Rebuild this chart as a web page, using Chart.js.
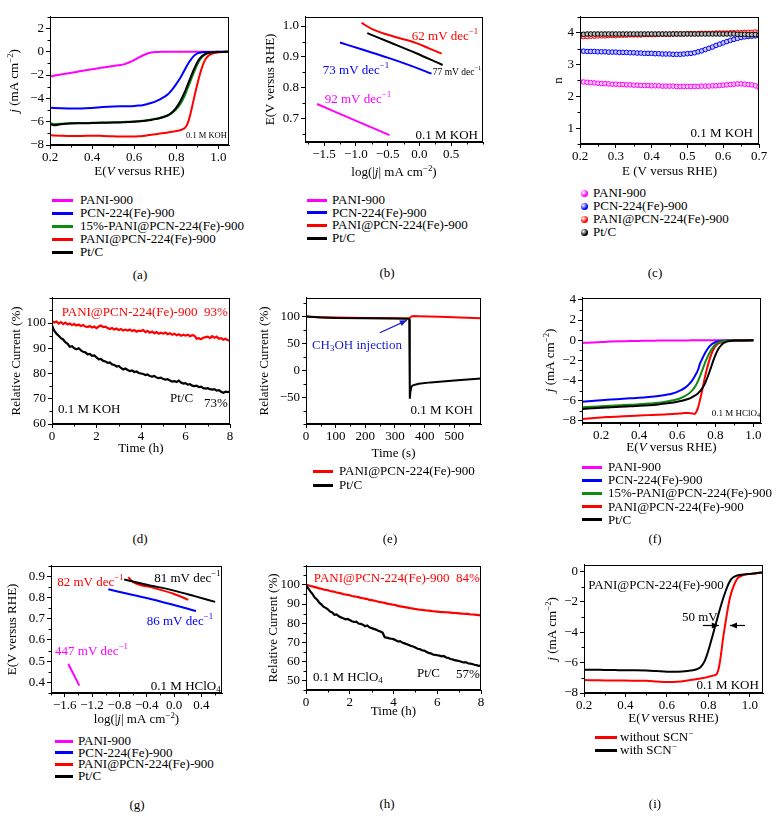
<!DOCTYPE html>
<html>
<head>
<meta charset="utf-8">
<script src="https://cdn.jsdelivr.net/npm/chart.js@4.4.0/dist/chart.umd.min.js"></script>
<style>
  body { margin: 0; background: #fff; width: 780px; height: 819px; position: relative; overflow: hidden;
         font-family: "Liberation Serif", "Times New Roman", serif; color: #000; }
  canvas { position: absolute; }
  .lg { position: absolute; font-size: 13px; line-height: 16px; height: 16px; white-space: nowrap; display: flex; align-items: center; }
  .lg sup { font-size: 9px; line-height: 0; }
  .ln { display: inline-block; height: 3px; }
  .dot { display: inline-block; width: 7px; height: 7px; border-radius: 50%; }
  .lab { position: absolute; font-size: 13px; transform: translate(-50%, -50%); }
</style>
</head>
<body>
<script>
// ---------- data ----------
// (a) LSV in 0.1 M KOH
var aE = [0.20,0.22,0.25,0.30,0.35,0.40,0.45,0.50,0.55,0.58,0.60,0.62,0.64,0.66,0.68,0.70,0.72,0.74,0.76,0.78,0.80,0.82,0.84,
          0.85,0.86,0.87,0.88,0.89,0.90,0.91,0.92,0.93,0.94,0.95,0.96,0.98,1.00,1.02,1.05];
var aPani = [-2.12,-2.05,-1.96,-1.80,-1.66,-1.50,-1.35,-1.22,-1.08,-0.88,-0.70,-0.50,-0.32,-0.17,-0.07,-0.02,-0.01,0,0,0,0,0,0,
             0,0,0,0,0,0,0,0,0,0,0,0,0,0,0,0];
var aPcn = [-4.80,-4.82,-4.84,-4.86,-4.86,-4.82,-4.75,-4.70,-4.68,-4.67,-4.65,-4.62,-4.58,-4.50,-4.40,-4.28,-4.10,-3.90,-3.65,-3.25,-2.75,-2.20,-1.55,
            -1.20,-0.90,-0.65,-0.42,-0.25,-0.14,-0.08,-0.05,-0.03,-0.02,-0.02,-0.01,-0.01,0,0,0];
var a15 = [-6.10,-6.20,-6.18,-6.12,-6.12,-6.10,-6.08,-6.05,-6.02,-6.00,-5.98,-5.95,-5.92,-5.88,-5.82,-5.75,-5.68,-5.58,-5.45,-5.25,-4.92,-4.45,-3.75,
           -3.30,-2.85,-2.38,-1.92,-1.48,-1.08,-0.75,-0.50,-0.32,-0.20,-0.13,-0.08,-0.04,-0.02,-0.01,0];
var aPP = [-7.15,-7.18,-7.20,-7.22,-7.22,-7.20,-7.22,-7.25,-7.28,-7.28,-7.27,-7.25,-7.22,-7.18,-7.12,-7.08,-7.02,-6.98,-6.92,-6.86,-6.80,-6.72,-6.55,
           -6.30,-5.80,-5.10,-4.30,-3.50,-2.75,-2.05,-1.45,-0.95,-0.60,-0.38,-0.24,-0.10,-0.05,-0.02,-0.01];
var aPt = [-6.20,-6.30,-6.22,-6.15,-6.14,-6.12,-6.10,-6.08,-6.05,-6.02,-6.00,-5.98,-5.95,-5.90,-5.85,-5.78,-5.70,-5.60,-5.45,-5.20,-4.80,-4.20,-3.45,
           -3.00,-2.55,-2.10,-1.65,-1.25,-0.88,-0.60,-0.40,-0.26,-0.17,-0.11,-0.07,-0.04,-0.02,-0.01,0];
var aXTicks = [0.2,0.4,0.6,0.8,1.0];
var aYTicks = [-8,-6,-4,-2,0,2];

// (b) Tafel, KOH
var bPaniX = [-1.61,-1.05,-0.47],                    bPaniY = [0.748,0.698,0.647];
var bPcnX  = [-1.25,-0.90,-0.50,-0.15,0.19],         bPcnY  = [0.947,0.924,0.898,0.873,0.846];
var bPPX   = [-0.91,-0.75,-0.55,-0.35,-0.05,0.15,0.35], bPPY = [1.010,0.991,0.975,0.963,0.945,0.928,0.911];
var bPtX   = [-0.82,-0.45,-0.05,0.15,0.365],         bPtY   = [0.977,0.946,0.912,0.894,0.874];
var bXTicks = [-1.5,-1.0,-0.5,0,0.5];
var bYTicks = [0.7,0.8,0.9,1.0];

// (c) electron transfer number
var cE = [0.20,0.21,0.22,0.23,0.24,0.25,0.26,0.27,0.28,0.29,0.30,0.31,0.32,0.33,0.34,0.35,0.36,0.37,0.38,0.39,
          0.40,0.41,0.42,0.43,0.44,0.45,0.46,0.47,0.48,0.49,0.50,0.51,0.52,0.53,0.54,0.55,0.56,0.57,0.58,0.59,
          0.60,0.61,0.62,0.63,0.64,0.65,0.66,0.67,0.68,0.69,0.70];
var cPani = [2.46,2.45,2.44,2.43,2.42,2.41,2.40,2.40,2.39,2.38,2.38,2.37,2.37,2.36,2.36,2.35,2.35,2.34,2.34,2.34,
             2.33,2.33,2.33,2.32,2.32,2.32,2.32,2.31,2.31,2.31,2.31,2.31,2.31,2.31,2.32,2.32,2.32,2.33,2.33,2.34,
             2.35,2.36,2.37,2.38,2.39,2.39,2.38,2.37,2.36,2.33,2.28];
var cPcn = [3.42,3.42,3.41,3.41,3.41,3.40,3.40,3.40,3.39,3.39,3.39,3.38,3.38,3.38,3.37,3.37,3.36,3.36,3.35,3.35,
            3.35,3.34,3.34,3.33,3.33,3.33,3.32,3.32,3.32,3.33,3.34,3.35,3.37,3.40,3.43,3.47,3.51,3.55,3.60,3.64,
            3.68,3.72,3.76,3.79,3.82,3.85,3.87,3.88,3.89,3.90,3.91];
var cPP = [3.87,3.88,3.88,3.89,3.89,3.90,3.90,3.90,3.91,3.91,3.91,3.92,3.92,3.92,3.93,3.93,3.93,3.93,3.94,3.94,
           3.94,3.94,3.95,3.95,3.95,3.95,3.96,3.96,3.96,3.96,3.97,3.97,3.97,3.97,3.98,3.98,3.98,3.98,3.99,3.99,
           3.99,3.99,4.00,4.00,4.00,4.00,4.01,4.01,4.01,4.02,4.02];
var cPt = [3.95,3.95,3.96,3.96,3.96,3.96,3.96,3.96,3.96,3.96,3.96,3.96,3.96,3.96,3.96,3.96,3.96,3.96,3.96,3.96,
           3.96,3.96,3.96,3.96,3.96,3.96,3.96,3.96,3.96,3.96,3.96,3.96,3.96,3.96,3.96,3.96,3.96,3.96,3.96,3.96,
           3.96,3.96,3.96,3.96,3.95,3.95,3.95,3.94,3.94,3.94,3.93];
var cXTicks = [0.2,0.3,0.4,0.5,0.6,0.7];
var cYTicks = [1,2,3,4];

// (d) stability, KOH
var dT = [0,0.1,0.2,0.3,0.4,0.5,0.6,0.7,0.8,0.9,1.0,1.1,1.2,1.3,1.4,1.5,1.6,1.7,1.8,1.9,
          2.0,2.1,2.2,2.3,2.4,2.5,2.6,2.7,2.8,2.9,3.0,3.1,3.2,3.3,3.4,3.5,3.6,3.7,3.8,3.9,
          4.0,4.1,4.2,4.3,4.4,4.5,4.6,4.7,4.8,4.9,5.0,5.1,5.2,5.3,5.4,5.5,5.6,5.7,5.8,5.9,
          6.0,6.1,6.2,6.3,6.4,6.5,6.6,6.7,6.8,6.9,7.0,7.1,7.2,7.3,7.4,7.5,7.6,7.7,7.8,7.9,8.0];
var dPP = [100.8,100.2,100.6,99.8,100.4,99.6,100.2,99.4,99.8,99.2,99.6,99.0,99.4,98.8,99.2,98.6,98.4,98.8,98.2,98.6,
           98.0,98.6,99.0,98.4,98.6,98.0,97.6,98.0,97.4,97.8,97.2,97.6,97.0,97.4,97.0,97.4,96.8,97.2,96.6,97.0,
           96.8,97.2,96.4,96.8,96.2,96.6,96.0,96.4,95.8,96.2,95.8,96.2,95.6,96.0,95.4,95.8,95.2,95.6,95.0,95.4,
           95.0,95.4,94.8,95.2,95.0,93.8,94.0,93.6,94.2,94.4,94.6,94.0,94.8,94.2,94.6,93.8,94.0,93.4,93.8,93.2,93.0];
var dPt = [99.0,97.0,95.8,95.0,94.0,93.5,92.4,91.8,90.6,90.8,90.0,89.6,90.0,89.2,88.6,88.4,87.6,87.8,87.0,87.2,
           86.4,85.6,85.8,85.0,84.8,84.2,84.4,83.6,83.4,82.8,83.0,82.2,81.6,82.0,81.4,81.0,81.2,80.6,80.8,80.2,
           80.0,79.8,79.4,79.6,79.0,78.8,79.0,78.4,78.2,78.4,77.8,77.6,77.8,77.2,76.8,77.0,76.6,77.2,76.4,76.0,
           76.2,75.6,75.8,75.2,75.0,75.2,74.6,74.8,74.2,74.0,74.2,73.8,73.6,73.8,73.2,73.4,72.8,72.4,72.8,72.6,73.0];
var dXTicks = [0,2,4,6,8];
var dYTicks = [60,70,80,90,100];

// (e) methanol tolerance
var ePPX = [0,50,100,200,300,345,350,355,362,380,450,520,590];
var ePPY = [100,99,98.2,97.5,97,96.6,97.5,100,101,100.8,99.6,98.4,97];
var ePtX = [0,50,100,200,300,345,348,350,352,355,360,380,420,500,590];
var ePtY = [100,98.5,97.5,97,96.5,96,95,-53,-40,-31,-28,-25,-22.5,-19,-15.5];
var eXTicks = [0,100,200,300,400,500];
var eYTicks = [-50,0,50,100];

// (f) LSV in 0.1 M HClO4
var fE = [0.10,0.15,0.20,0.25,0.30,0.35,0.40,0.45,0.50,0.55,0.58,0.60,0.62,0.64,0.66,0.68,
          0.69,0.70,0.71,0.72,0.73,0.74,0.75,0.76,0.77,0.78,0.79,0.80,0.81,0.82,0.84,0.86,0.88,0.90,0.95,1.00];
var fPani = [-0.28,-0.22,-0.18,-0.14,-0.11,-0.09,-0.07,-0.05,-0.04,-0.03,-0.03,-0.02,-0.02,-0.02,-0.02,-0.01,
             -0.01,-0.01,-0.01,-0.01,-0.01,-0.01,-0.01,-0.01,-0.01,-0.01,-0.01,-0.01,-0.01,-0.01,0,0,0,0,0,0];
var fPcn = [-6.10,-6.02,-5.95,-5.88,-5.82,-5.76,-5.70,-5.62,-5.52,-5.38,-5.25,-5.12,-4.95,-4.72,-4.40,-3.95,
            -3.65,-3.30,-2.90,-2.30,-1.90,-1.50,-1.15,-0.85,-0.60,-0.42,-0.30,-0.20,-0.13,-0.09,-0.05,-0.03,-0.02,-0.01,0,0];
var f15 = [-6.65,-6.60,-6.55,-6.50,-6.45,-6.40,-6.35,-6.28,-6.20,-6.05,-5.95,-5.85,-5.72,-5.55,-5.30,-4.95,
           -4.70,-4.40,-4.00,-3.55,-3.05,-2.55,-2.05,-1.62,-1.25,-0.92,-0.65,-0.45,-0.30,-0.20,-0.10,-0.06,-0.04,-0.03,-0.02,-0.01];
var fPP = [-7.80,-7.72,-7.65,-7.60,-7.55,-7.50,-7.46,-7.42,-7.38,-7.33,-7.30,-7.28,-7.25,-7.22,-7.20,-7.25,
           -7.30,-7.10,-6.65,-5.90,-5.05,-4.15,-3.30,-2.55,-1.90,-1.35,-0.92,-0.62,-0.42,-0.30,-0.15,-0.07,-0.04,-0.03,-0.02,-0.01];
var fPt = [-6.82,-6.75,-6.70,-6.64,-6.60,-6.55,-6.50,-6.44,-6.36,-6.25,-6.17,-6.10,-6.02,-5.92,-5.80,-5.62,
           -5.52,-5.40,-5.25,-5.05,-4.80,-4.50,-4.10,-3.62,-3.10,-2.55,-2.00,-1.50,-1.08,-0.75,-0.32,-0.14,-0.07,-0.04,-0.02,-0.01];
var fXTicks = [0.2,0.4,0.6,0.8,1.0];
var fYTicks = [-8,-6,-4,-2,0,2,4];

// (g) Tafel, HClO4
var gPaniX = [-1.547,-1.386],                    gPaniY = [0.487,0.385];
var gPcnX  = [-0.962,-0.60,-0.20,0.32],          gPcnY  = [0.839,0.812,0.782,0.737];
var gPPX   = [-0.67,-0.63,-0.58,-0.30,0.0,0.207], gPPY  = [0.897,0.882,0.870,0.846,0.817,0.790];
var gPtX   = [-0.73,-0.40,0.0,0.30,0.60],        gPtY   = [0.885,0.861,0.833,0.807,0.780];
var gXTicks = [-1.6,-1.2,-0.8,-0.4,0,0.4];
var gYTicks = [0.4,0.5,0.6,0.7,0.8,0.9];

// (h) stability, HClO4
var hT = dT;
var hPP = [100.0,99.8,99.4,99.2,98.8,98.6,98.2,98.0,97.6,97.4,97.2,96.8,96.6,96.4,96.0,95.8,95.6,95.2,95.0,94.8,
           94.6,94.2,94.0,93.8,93.6,93.2,93.0,92.8,92.6,92.2,92.0,91.8,91.6,91.2,91.0,90.8,90.6,90.2,90.0,89.8,
           89.6,89.4,89.0,88.8,88.6,88.4,88.2,88.0,87.8,87.6,87.4,87.2,87.0,86.9,86.8,86.6,86.5,86.4,86.2,86.1,
           86.0,85.9,85.8,85.8,85.7,85.6,85.5,85.4,85.3,85.2,85.1,85.0,84.9,84.8,84.8,84.6,84.5,84.4,84.3,84.2,84.0];
var hPt = [100.0,98.2,96.6,95.2,93.4,92.4,90.8,89.8,88.6,88.0,87.2,86.0,85.6,84.4,84.6,83.6,83.0,82.6,82.0,82.2,
           81.6,81.0,80.6,80.8,79.8,79.6,79.2,78.4,78.8,77.8,77.4,77.0,76.6,76.0,75.6,75.0,72.6,72.4,72.0,71.8,
           71.6,71.0,70.4,70.6,69.8,69.4,69.0,68.6,68.0,67.8,67.2,66.6,66.4,65.8,65.6,65.0,64.4,64.2,63.6,63.4,
           63.2,63.0,62.6,62.8,62.0,61.8,61.2,61.0,60.6,60.4,60.2,59.8,59.4,59.6,59.0,58.8,58.6,58.2,58.0,57.6,57.8];
var hXTicks = [0,2,4,6,8];
var hYTicks = [50,60,70,80,90,100];

// (i) SCN- poisoning
var iE = [0.20,0.25,0.30,0.35,0.40,0.45,0.50,0.55,0.60,0.65,0.70,0.74,0.76,0.78,
          0.79,0.80,0.81,0.82,0.83,0.84,0.85,0.86,0.87,0.88,0.89,0.90,0.91,0.92,0.93,0.94,0.96,0.98,1.00,1.03,1.06];
var iWithout = [-7.15,-7.16,-7.17,-7.18,-7.18,-7.19,-7.20,-7.24,-7.28,-7.26,-7.18,-7.10,-7.05,-7.00,
                -6.97,-6.93,-6.90,-6.86,-6.82,-6.75,-6.35,-5.50,-4.45,-3.55,-2.70,-1.95,-1.40,-1.00,-0.68,-0.45,-0.27,-0.19,-0.15,-0.10,-0.05];
var iWith = [-6.46,-6.47,-6.48,-6.49,-6.50,-6.50,-6.51,-6.55,-6.60,-6.60,-6.55,-6.45,-6.32,-5.95,
             -5.60,-5.18,-4.70,-4.22,-3.72,-3.22,-2.72,-2.25,-1.80,-1.40,-1.02,-0.72,-0.50,-0.37,-0.30,-0.25,-0.20,-0.17,-0.15,-0.10,-0.05];
var iXTicks = [0.2,0.4,0.6,0.8,1.0];
var iYTicks = [-8,-6,-4,-2,0];

var names5 = ['PANI-900', 'PCN-224(Fe)-900', '15%-PANI@PCN-224(Fe)-900', 'PANI@PCN-224(Fe)-900', 'Pt/C'];
var names4 = ['PANI-900', 'PCN-224(Fe)-900', 'PANI@PCN-224(Fe)-900', 'Pt/C'];
var names2 = ['PANI@PCN-224(Fe)-900', 'Pt/C'];
var namesSCN = ['without SCN<sup>\u2212</sup>', 'with SCN<sup>\u2212</sup>'];

var MAG = '#ff00ff', BLU = '#0000ff', GRN = '#108a10', RED = '#ff0000', BLK = '#000000';

// ---------- helpers ----------
var FONT = '"Liberation Serif", "Times New Roman", serif';
var MINUS = '\u2212';
function fmt(d) {
  return function (v) { return (v < -1e-9 ? MINUS : '') + Math.abs(v).toFixed(d); };
}

// tiny markup: *italic*, ^{sup}, _{sub}
function parseRich(s) {
  var segs = [], italic = false, buf = '', i = 0;
  function push(t, pos) { if (t) segs.push({ t: t, italic: italic, pos: pos }); }
  while (i < s.length) {
    var c = s[i];
    if (c === '*') { push(buf, 0); buf = ''; italic = !italic; i++; }
    else if ((c === '^' || c === '_') && s[i + 1] === '{') {
      push(buf, 0); buf = '';
      var j = s.indexOf('}', i);
      push(s.slice(i + 2, j), c === '^' ? 1 : -1);
      i = j + 1;
    } else { buf += c; i++; }
  }
  push(buf, 0);
  return segs;
}

function drawRich(ctx, s, x, y, size, color, align, rotate) {
  var segs = parseRich(s);
  function fontOf(g) { return (g.italic ? 'italic ' : '') + (g.pos ? size * 0.68 : size) + 'px ' + FONT; }
  var w = 0;
  segs.forEach(function (g) { ctx.font = fontOf(g); g.w = ctx.measureText(g.t).width; w += g.w; });
  ctx.save();
  ctx.translate(x, y);
  if (rotate) ctx.rotate(-Math.PI / 2);
  var cx = align === 'left' ? 0 : (align === 'right' ? -w : -w / 2);
  ctx.fillStyle = color;
  ctx.textBaseline = 'middle';
  segs.forEach(function (g) {
    ctx.font = fontOf(g);
    var dy = g.pos === 1 ? -size * 0.36 : (g.pos === -1 ? size * 0.25 : 0);
    ctx.fillText(g.t, cx, dy);
    cx += g.w;
  });
  ctx.restore();
}

// frame, minor ticks, axis titles, notes and arrows
var decor = {
  id: 'decor',
  afterDraw: function (chart, args, o) {
    var ctx = chart.ctx, ca = chart.chartArea, x = chart.scales.x, y = chart.scales.y;
    ctx.save();
    ctx.strokeStyle = '#000';
    ctx.lineWidth = 1;
    ctx.strokeRect(Math.round(ca.left) + 0.5, Math.round(ca.top) + 0.5,
                   Math.round(ca.right - ca.left) - 1, Math.round(ca.bottom - ca.top) - 1);

    function minors(s, step, horiz) {
      if (!step) return;
      var majors = s.ticks.map(function (t) { return t.value; });
      for (var k = Math.ceil(s.min / step - 1e-6); k * step <= s.max + 1e-9; k++) {
        var v = k * step;
        if (majors.some(function (m) { return Math.abs(m - v) < 1e-6; })) continue;
        var p = Math.round(s.getPixelForValue(v)) + 0.5;
        ctx.beginPath();
        if (horiz) { ctx.moveTo(p, ca.bottom); ctx.lineTo(p, ca.bottom + 2.5); }
        else { ctx.moveTo(ca.left, p); ctx.lineTo(ca.left - 2.5, p); }
        ctx.stroke();
      }
    }
    minors(x, o.minorX, true);
    minors(y, o.minorY, false);

    drawRich(ctx, o.xTitle, (ca.left + ca.right) / 2, ca.bottom + o.xDy, 13, '#000', 'center', false);
    drawRich(ctx, o.yTitle, ca.left + o.yDx, (ca.top + ca.bottom) / 2, 13, '#000', 'center', true);

    (o.notes || []).forEach(function (n) {
      drawRich(ctx, n.t, x.getPixelForValue(n.x), y.getPixelForValue(n.y), n.size || 13, n.c || '#000', n.a || 'left', false);
    });

    (o.arrows || []).forEach(function (a) {
      var x1 = x.getPixelForValue(a.x1), y1 = y.getPixelForValue(a.y1);
      var x2 = x.getPixelForValue(a.x2), y2 = y.getPixelForValue(a.y2);
      var ang = Math.atan2(y2 - y1, x2 - x1);
      ctx.strokeStyle = a.c; ctx.fillStyle = a.c; ctx.lineWidth = 1.2;
      ctx.beginPath(); ctx.moveTo(x1, y1); ctx.lineTo(x2, y2); ctx.stroke();
      ctx.beginPath();
      ctx.moveTo(x2, y2);
      ctx.lineTo(x2 - 7 * Math.cos(ang) + 3 * Math.sin(ang), y2 - 7 * Math.sin(ang) - 3 * Math.cos(ang));
      ctx.lineTo(x2 - 7 * Math.cos(ang) - 3 * Math.sin(ang), y2 - 7 * Math.sin(ang) + 3 * Math.cos(ang));
      ctx.closePath();
      ctx.fill();
    });
    ctx.restore();
  }
};

function axis(min, max, ticks, f, horiz) {
  return {
    type: 'linear',
    position: horiz ? 'bottom' : 'left',
    min: min,
    max: max,
    afterBuildTicks: function (s) { s.ticks = ticks.map(function (v) { return { value: v }; }); },
    afterFit: function (s) { if (horiz) s.height = 40; else s.width = 50; },
    grid: { drawOnChartArea: false, drawTicks: true, tickLength: 4, color: '#000' },
    border: { display: true, color: '#000', width: 1 },
    ticks: { color: '#000', font: { size: 13, family: FONT }, padding: horiz ? 1 : 2,
             maxRotation: 0, autoSkip: false, callback: function (v) { return f(v); } }
  };
}

function ser(xs, ys, color, width, order, extra) {
  var d = {
    data: xs.map(function (x, i) { return { x: x, y: ys[i] }; }),
    borderColor: color, backgroundColor: color, borderWidth: width,
    pointRadius: 0, cubicInterpolationMode: 'monotone', order: order
  };
  for (var k in extra || {}) d[k] = extra[k];
  return d;
}

function beads(xs, ys, color, tint, order) {
  return ser(xs, ys, color, 0, order, {
    showLine: false, pointRadius: 2.3, pointStyle: 'circle',
    pointBackgroundColor: tint, pointBorderColor: color, pointBorderWidth: 1
  });
}

// right padding 20 so notes near the frame are not cut
function panel(box, xAx, yAx, datasets, deco) {
  var cv = document.createElement('canvas');
  var W = box.r - box.l + 70, H = box.b - box.t + 46;
  cv.width = W; cv.height = H;
  cv.style.width = W + 'px'; cv.style.height = H + 'px';
  cv.style.left = (box.l - 50) + 'px'; cv.style.top = (box.t - 6) + 'px';
  document.body.appendChild(cv);
  new Chart(cv, {
    type: 'line',
    data: { datasets: datasets },
    options: {
      responsive: false, animation: false, devicePixelRatio: 1, events: [],
      layout: { padding: { top: 6, right: 20, left: 0, bottom: 0 } },
      plugins: { legend: { display: false }, tooltip: { enabled: false }, decor: deco },
      scales: { x: xAx, y: yAx }
    },
    plugins: [decor]
  });
}

function legend(x, yc, dy, w, gap, names, colors, dots) {
  names.forEach(function (n, k) {
    var d = document.createElement('div');
    d.className = 'lg';
    d.style.left = x + 'px';
    d.style.top = (yc + k * dy - 8) + 'px';
    var mk = dots
      ? '<span class="dot" style="background:radial-gradient(circle at 35% 35%, #fff 0, ' + colors[k] + ' 60%)"></span>'
      : '<span class="ln" style="width:' + w + 'px;background:' + colors[k] + '"></span>';
    d.innerHTML = mk + '<span style="margin-left:' + gap + 'px">' + n + '</span>';
    document.body.appendChild(d);
  });
}

function label(t, x, y) {
  var d = document.createElement('div');
  d.className = 'lab';
  d.style.left = x + 'px'; d.style.top = y + 'px';
  d.textContent = t;
  document.body.appendChild(d);
}

Chart.defaults.font.family = FONT;
Chart.defaults.color = '#000';

// ---------- panels ----------
panel({ l: 50, t: 13, r: 229, b: 145 },
  axis(0.2, 1.05, aXTicks, fmt(1), true), axis(-8, 3, aYTicks, fmt(0), false),
  [ser(aE, aPani, MAG, 2, 4), ser(aE, aPcn, BLU, 2, 3), ser(aE, a15, GRN, 2, 1),
   ser(aE, aPP, RED, 2, 2), ser(aE, aPt, BLK, 2, 0)],
  { minorX: 0.1, minorY: 1, xTitle: 'E(*V* versus RHE)', xDy: 27, yTitle: '*j* (mA cm^{\u22122})', yDx: -35,
    notes: [{ t: '0.1 M KOH', x: 1.04, y: -7.2, size: 8.5, a: 'right' }] });

panel({ l: 305, t: 13, r: 483, b: 142 },
  axis(-1.8, 1.0, bXTicks, fmt(1), true), axis(0.625, 1.03, bYTicks, fmt(1), false),
  [ser(bPaniX, bPaniY, MAG, 2, 3), ser(bPcnX, bPcnY, BLU, 2, 2), ser(bPPX, bPPY, RED, 2, 1), ser(bPtX, bPtY, BLK, 2, 0)],
  { minorX: 0.25, minorY: 0.05, xTitle: 'log(|*j*| mA cm^{\u22122})', xDy: 31, yTitle: 'E(V versus RHE)', yDx: -34,
    notes: [
      { t: '62 mV dec^{\u22121}', x: -0.12, y: 0.967, c: RED },
      { t: '73 mV dec^{\u22121}', x: -1.52, y: 0.857, c: BLU },
      { t: '77 mV dec^{\u22121}', x: 0.21, y: 0.851, size: 9.5 },
      { t: '92 mV dec^{\u22121}', x: -1.49, y: 0.763, c: MAG },
      { t: '0.1 M KOH', x: 0.92, y: 0.647, a: 'right' }] });

panel({ l: 580, t: 13, r: 759, b: 144 },
  axis(0.2, 0.7, cXTicks, fmt(1), true), axis(0.5, 4.5, cYTicks, fmt(0), false),
  [beads(cE, cPani, MAG, '#ffc8ff', 3), beads(cE, cPcn, BLU, '#c8c8ff', 2),
   beads(cE, cPP, RED, '#ffc8c8', 1), beads(cE, cPt, BLK, '#bbbbbb', 0)],
  { minorX: 0.05, minorY: 0.5, xTitle: 'E (V versus RHE)', xDy: 28, yTitle: 'n', yDx: -21,
    notes: [{ t: '0.1 M KOH', x: 0.683, y: 0.84, a: 'right' }] });

panel({ l: 52, t: 294, r: 230, b: 424 },
  axis(0, 8, dXTicks, fmt(0), true), axis(60, 110, dYTicks, fmt(0), false),
  [ser(dT, dPP, RED, 2.2, 1, { cubicInterpolationMode: 'default', tension: 0 }),
   ser(dT, dPt, BLK, 2.2, 0, { cubicInterpolationMode: 'default', tension: 0 })],
  { minorX: 1, minorY: 5, xTitle: 'Time (h)', xDy: 25, yTitle: 'Relative Current (%)', yDx: -35,
    notes: [
      { t: 'PANI@PCN-224(Fe)-900  93%', x: 7.9, y: 104.2, c: RED, a: 'right' },
      { t: 'Pt/C', x: 5.3, y: 70.0 },
      { t: '73%', x: 7.9, y: 68.0, a: 'right' },
      { t: '0.1 M KOH', x: 0.27, y: 65.8 }] });

panel({ l: 306, t: 294, r: 481, b: 424 },
  axis(0, 590, eXTicks, fmt(0), true), axis(-100, 135, eYTicks, fmt(0), false),
  [ser(ePPX, ePPY, RED, 2, 1, { cubicInterpolationMode: 'default', tension: 0 }),
   ser(ePtX, ePtY, BLK, 2, 0, { cubicInterpolationMode: 'default', tension: 0 })],
  { minorX: 50, minorY: 25, xTitle: 'Time (s)', xDy: 30, yTitle: 'Relative Current (%)', yDx: -41,
    notes: [
      { t: 'CH_{3}OH injection', x: 20, y: 46, c: '#1a1ad0' },
      { t: '0.1 M KOH', x: 563, y: -75, a: 'right' }],
    arrows: [{ x1: 249, y1: 70, x2: 340, y2: 93, c: '#1a1ad0' }] });

panel({ l: 582, t: 294, r: 761, b: 423 },
  axis(0.1, 1.04, fXTicks, fmt(1), true), axis(-8.2, 4.2, fYTicks, fmt(0), false),
  [ser(fE, fPani, MAG, 2, 4), ser(fE, fPcn, BLU, 2, 3), ser(fE, f15, GRN, 2, 1),
   ser(fE, fPP, RED, 2, 2), ser(fE, fPt, BLK, 2, 0)],
  { minorX: 0.1, minorY: 1, xTitle: 'E(*V* versus RHE)', xDy: 25, yTitle: '*j* (mA cm^{\u22122})', yDx: -31,
    notes: [{ t: '0.1 M HClO_{4}', x: 1.035, y: -7.25, size: 9, a: 'right' }] });

panel({ l: 51, t: 562, r: 222, b: 693 },
  axis(-1.8, 0.7, gXTicks, fmt(1), true), axis(0.35, 0.95, gYTicks, fmt(1), false),
  [ser(gPaniX, gPaniY, MAG, 2, 3), ser(gPcnX, gPcnY, BLU, 2, 2), ser(gPPX, gPPY, RED, 2, 1), ser(gPtX, gPtY, BLK, 2, 0)],
  { minorX: 0.2, minorY: 0.05, xTitle: 'log(|*j*| mA cm^{\u22122})', xDy: 27, yTitle: 'E(V versus RHE)', yDx: -38,
    notes: [
      { t: '82 mV dec^{\u22121}', x: -1.71, y: 0.872, c: RED },
      { t: '81 mV dec^{\u22121}', x: 0.68, y: 0.89, a: 'right' },
      { t: '86 mV dec^{\u22121}', x: -0.40, y: 0.689, c: BLU },
      { t: '447 mV dec^{\u22121}', x: -1.74, y: 0.546, c: MAG },
      { t: '0.1 M HClO_{4}', x: 0.68, y: 0.381, a: 'right' }] });

panel({ l: 306, t: 562, r: 481, b: 690 },
  axis(0, 8, hXTicks, fmt(0), true), axis(45, 110, hYTicks, fmt(0), false),
  [ser(hT, hPP, RED, 2.2, 1, { cubicInterpolationMode: 'default', tension: 0 }),
   ser(hT, hPt, BLK, 2.2, 0, { cubicInterpolationMode: 'default', tension: 0 })],
  { minorX: 1, minorY: 5, xTitle: 'Time (h)', xDy: 22, yTitle: 'Relative Current (%)', yDx: -32,
    notes: [
      { t: 'PANI@PCN-224(Fe)-900  84%', x: 7.95, y: 103.4, c: RED, a: 'right' },
      { t: '0.1 M HClO_{4}', x: 0.32, y: 51.6 },
      { t: 'Pt/C', x: 5.07, y: 53.7 },
      { t: '57%', x: 7.95, y: 53.2, a: 'right' }] });

panel({ l: 584, t: 561, r: 763, b: 693 },
  axis(0.2, 1.063, iXTicks, fmt(1), true), axis(-8, 0.45, iYTicks, fmt(0), false),
  [ser(iE, iWithout, RED, 2, 1), ser(iE, iWith, BLK, 2, 0)],
  { minorX: 0.1, minorY: 1, xTitle: 'E(*V* versus RHE)', xDy: 26, yTitle: '*j* (mA cm^{\u22122})', yDx: -31,
    notes: [
      { t: 'PANI@PCN-224(Fe)-900', x: 0.22, y: -0.9 },
      { t: '50 mV', x: 0.672, y: -3.0 },
      { t: '0.1 M KOH', x: 1.043, y: -7.5, a: 'right' }],
    arrows: [{ x1: 0.773, y1: -3.55, x2: 0.850, y2: -3.55, c: BLK },
             { x1: 0.976, y1: -3.55, x2: 0.904, y2: -3.55, c: BLK }] });

// ---------- legends and panel labels ----------
legend(52, 200, 13.1, 21, 7, names5, [MAG, BLU, GRN, RED, BLK], false);
legend(307, 200, 12.7, 20, 5, names4, [MAG, BLU, RED, BLK], false);
legend(581, 193, 13, 0, 5, names4, [MAG, BLU, RED, BLK], true);
legend(313, 471, 14, 20, 6, names2, [RED, BLK], false);
legend(582, 467, 13.2, 20, 6, names5, [MAG, BLU, GRN, RED, BLK], false);
legend(55, 741, 11.7, 18, 5, names4, [MAG, BLU, RED, BLK], false);
legend(595, 737, 13, 22, 3, namesSCN, [RED, BLK], false);

label('(a)', 140, 275); label('(b)', 387, 273); label('(c)', 655, 273);
label('(d)', 140, 539); label('(e)', 390, 539); label('(f)', 655, 539);
label('(g)', 137, 805); label('(h)', 387, 804); label('(i)', 655, 804);
</script>
</body>
</html>
